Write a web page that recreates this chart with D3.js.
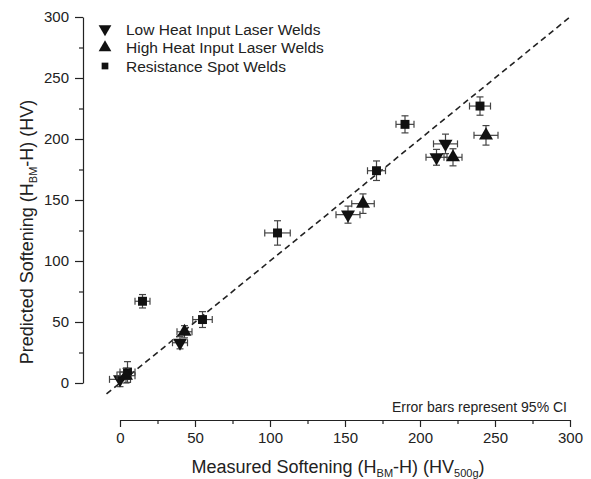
<!DOCTYPE html>
<html>
<head>
<meta charset="utf-8">
<script src="https://cdn.jsdelivr.net/npm/d3@7/dist/d3.min.js"></script>
<style>
  body { margin: 0; background: #fff; }
  text { font-family: Arial, "Liberation Sans", sans-serif; fill: #222; }
</style>
</head>
<body>
<script>
// rows: [measured, predicted, xErr, yErr]
var lowHeat = [
  [0, 3, 7, 6],
  [40, 33, 5, 5],
  [152, 138, 8, 7],
  [211, 185, 7, 6.5],
  [217, 196, 8, 8]
];
var highHeat = [
  [4, 6, 6, 6],
  [43, 42, 5, 5],
  [162, 147, 7.5, 8],
  [222, 185, 6, 7],
  [244, 203, 8, 8]
];
var spotWelds = [
  [5, 9, 5, 8.5],
  [15, 67, 5, 5.5],
  [55, 52, 6.5, 6.5],
  [105, 123, 8.5, 10],
  [171, 174, 6, 8],
  [190, 212, 6, 7],
  [240, 227, 7, 7.5]
];
var legendLabels = ["Low Heat Input Laser Welds", "High Heat Input Laser Welds", "Resistance Spot Welds"];
var majorTicks = [0, 50, 100, 150, 200, 250, 300];
var minorTicks = [25, 75, 125, 175, 225, 275];
var fitLine = [-9, 300];

var width = 591, height = 479;

var xScale = d3.scaleLinear().domain([0, 300]).range([120, 570]);
var yScale = d3.scaleLinear().domain([0, 300]).range([383, 17]);

var svg = d3.select("body").append("svg")
  .attr("width", width)
  .attr("height", height);

// axes (detached, Origin style)
var yAxis = svg.append("g")
  .attr("transform", "translate(83,0)")
  .call(d3.axisLeft(yScale).tickValues(majorTicks).tickSize(8).tickSizeOuter(0).tickPadding(6));
svg.append("g")
  .attr("transform", "translate(83,0)")
  .call(d3.axisLeft(yScale).tickValues(minorTicks).tickSize(4).tickSizeOuter(0).tickFormat(""))
  .select(".domain").remove();

var xAxis = svg.append("g")
  .attr("transform", "translate(0,420)")
  .call(d3.axisBottom(xScale).tickValues(majorTicks).tickSize(7).tickSizeOuter(0).tickPadding(5));
svg.append("g")
  .attr("transform", "translate(0,420)")
  .call(d3.axisBottom(xScale).tickValues(minorTicks).tickSize(4).tickSizeOuter(0).tickFormat(""))
  .select(".domain").remove();

svg.selectAll(".tick text")
  .style("font-size", "15px")
  .style("font-family", "Arial, 'Liberation Sans', sans-serif")
  .attr("fill", "#222");
svg.selectAll(".domain, .tick line").attr("stroke", "#222").attr("stroke-width", 1.2);

// axis labels
var yLabel = svg.append("text")
  .attr("text-anchor", "middle")
  .attr("transform", "translate(33,232)rotate(-90)")
  .style("font-size", "18px");
yLabel.append("tspan").text("Predicted Softening (H");
yLabel.append("tspan").attr("dy", 4).style("font-size", "11px").text("BM");
yLabel.append("tspan").attr("dy", -4).text("-H) (HV)");

var xLabel = svg.append("text")
  .attr("text-anchor", "middle")
  .attr("transform", "translate(338,473)")
  .style("font-size", "18px");
xLabel.append("tspan").text("Measured Softening (H");
xLabel.append("tspan").attr("dy", 4).style("font-size", "11px").text("BM");
xLabel.append("tspan").attr("dy", -4).text("-H) (HV");
xLabel.append("tspan").attr("dy", 4).style("font-size", "11px").text("500g");
xLabel.append("tspan").attr("dy", -4).text(")");

svg.append("text")
  .attr("x", 567).attr("y", 412)
  .attr("text-anchor", "end")
  .style("font-size", "14px")
  .text("Error bars represent 95% CI");

// y = x reference line
var valueline = d3.line()
  .x(function(d) { return xScale(d); })
  .y(function(d) { return yScale(d); });
svg.append("path")
  .datum(fitLine)
  .attr("d", valueline)
  .attr("fill", "none")
  .attr("stroke", "#222")
  .attr("stroke-width", 1.6)
  .attr("stroke-dasharray", "6,4");

// error bars + markers
function drawSeries(data, symbol, size) {
  var g = svg.append("g");
  var cap = 3.5;
  data.forEach(function(d) {
    var cx = xScale(d[0]), cy = yScale(d[1]);
    var x0 = xScale(d[0] - d[2]), x1 = xScale(d[0] + d[2]);
    var y0 = yScale(d[1] - d[3]), y1 = yScale(d[1] + d[3]);
    var eb = g.append("g").attr("stroke", "#444").attr("stroke-width", 1.2);
    eb.append("line").attr("x1", x0).attr("x2", x1).attr("y1", cy).attr("y2", cy);
    eb.append("line").attr("x1", x0).attr("x2", x0).attr("y1", cy - cap).attr("y2", cy + cap);
    eb.append("line").attr("x1", x1).attr("x2", x1).attr("y1", cy - cap).attr("y2", cy + cap);
    eb.append("line").attr("x1", cx).attr("x2", cx).attr("y1", y0).attr("y2", y1);
    eb.append("line").attr("x1", cx - cap).attr("x2", cx + cap).attr("y1", y0).attr("y2", y0);
    eb.append("line").attr("x1", cx - cap).attr("x2", cx + cap).attr("y1", y1).attr("y2", y1);
  });
  g.selectAll("path.mark")
    .data(data)
    .enter().append("path")
    .attr("class", "mark")
    .attr("d", symbol.size(size))
    .attr("transform", function(d) {
      return "translate(" + xScale(d[0]) + "," + yScale(d[1]) + ")" + (symbol.down ? "rotate(180)" : "");
    })
    .attr("fill", "#111");
}

var triDown = d3.symbol().type(d3.symbolTriangle); triDown.down = true;
var triUp = d3.symbol().type(d3.symbolTriangle);
var sq = d3.symbol().type(d3.symbolSquare);

drawSeries(spotWelds, sq, 80);
drawSeries(lowHeat, triDown, 85);
drawSeries(highHeat, triUp, 85);

// legend
var legend = svg.append("g");
var legendSymbols = [triDown, triUp, sq];
legendLabels.forEach(function(label, i) {
  var ly = 29 + i * 18.5;
  legend.append("path")
    .attr("d", legendSymbols[i].size(i == 2 ? 45 : 70)())
    .attr("transform", "translate(105," + ly + ")" + (legendSymbols[i].down ? "rotate(180)" : ""))
    .attr("fill", "#111");
  legend.append("text")
    .attr("x", 126).attr("y", ly + 5.5)
    .style("font-size", "15.5px")
    .text(label);
});
</script>
</body>
</html>
